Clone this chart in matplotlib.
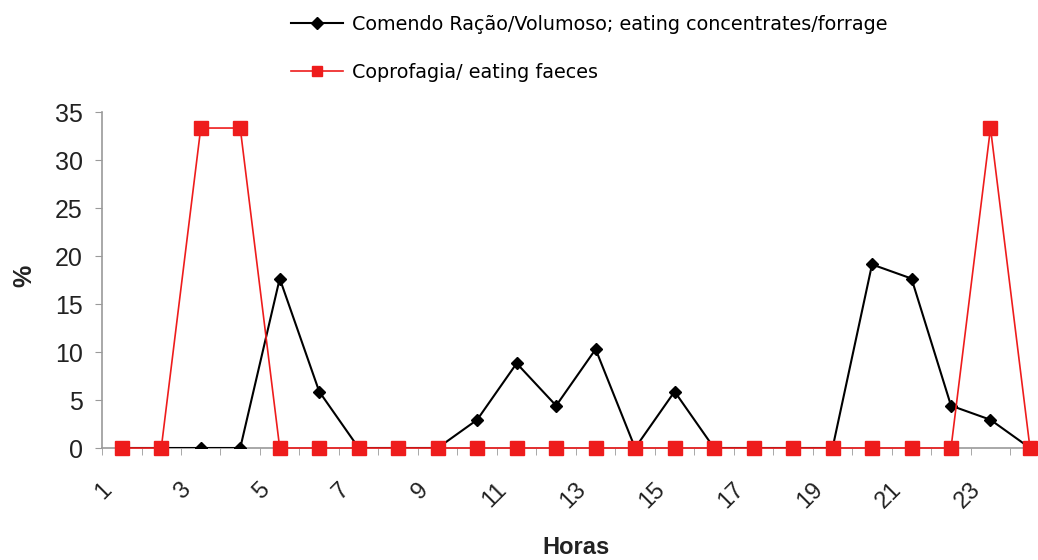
import matplotlib
matplotlib.use("Agg")
import matplotlib.pyplot as plt
from matplotlib.lines import Line2D
from matplotlib.transforms import ScaledTranslation

plt.rcParams["font.family"] = ["Liberation Sans", "DejaVu Sans"]

# hours of the day (categories) and % of observations per hour
hours = list(range(1, 25))
eating_feed = [0, 0, 0, 0, 17.65, 5.88, 0, 0, 0, 2.94, 8.82, 4.41,
               10.29, 0, 5.88, 0, 0, 0, 0, 19.12, 17.65, 4.41, 2.94, 0]
eating_faeces = [0, 0, 33.33, 33.33, 0, 0, 0, 0, 0, 0, 0, 0,
                 0, 0, 0, 0, 0, 0, 0, 0, 0, 0, 33.33, 0]

label_feed = "Comendo Ração/Volumoso; eating concentrates/forrage"
label_faeces = "Coprofagia/ eating faeces"
y_ticks = [0, 5, 10, 15, 20, 25, 30, 35]

RED = "#ee1c1c"
AXIS_GRAY = "#9a9a9a"
TEXT = "#222222"

fig = plt.figure(figsize=(10.38, 5.6), dpi=100)
ax = fig.add_axes([0.0983, 0.2, 0.913, 0.6])

ax.plot(hours, eating_feed, color="black", lw=1.5, marker="D",
        markersize=6, zorder=3)
ax.plot(hours, eating_faeces, color=RED, lw=1.2, marker="s",
        markersize=9.5, zorder=4, clip_on=False)

ax.set_xlim(0.5, 24.5)
ax.set_ylim(0, 35)
ax.set_yticks(y_ticks)
ax.set_xticks(hours[::2])
ax.set_xticklabels([str(h) for h in hours[::2]], rotation=45,
                   ha="right", va="top", rotation_mode="anchor")
# minor ticks sit on the category boundaries
ax.set_xticks([h + 0.5 for h in range(0, 25)], minor=True)
ax.tick_params(axis="x", which="major", length=0, pad=14, labelsize=17,
               colors=TEXT)
ax.tick_params(axis="x", which="minor", length=5, color=AXIS_GRAY)
ax.tick_params(axis="y", length=5, color=AXIS_GRAY, labelsize=18,
               colors=TEXT, pad=9)

# nudge the slanted hour labels left/down under their points
shift = ScaledTranslation(-0.21, -0.11, fig.dpi_scale_trans)
for lbl in ax.get_xticklabels():
    lbl.set_transform(lbl.get_transform() + shift)

for side in ("top", "right"):
    ax.spines[side].set_visible(False)
for side in ("left", "bottom"):
    ax.spines[side].set_color(AXIS_GRAY)
    ax.spines[side].set_linewidth(1.2)

fig.text(576 / 1038, 1 - 548 / 560, "Horas", fontsize=17,
         fontweight="bold", color=TEXT, ha="center", va="center")
fig.text(24 / 1038, 1 - 276 / 560, "%", fontsize=18, fontweight="bold",
         color=TEXT, ha="center", va="center", rotation=90)

handles = [
    Line2D([], [], color="black", lw=1.5, marker="D", markersize=6),
    Line2D([], [], color=RED, lw=1.2, marker="s", markersize=7),
]
fig.legend(handles, [label_feed, label_faeces], loc="upper left",
           bbox_to_anchor=(0.264, 1.004), frameon=False,
           prop={"family": "DejaVu Sans", "size": 13.8},
           handlelength=2.7, handletextpad=0.45, labelspacing=1.5)

fig.savefig("out.png", dpi=100)
